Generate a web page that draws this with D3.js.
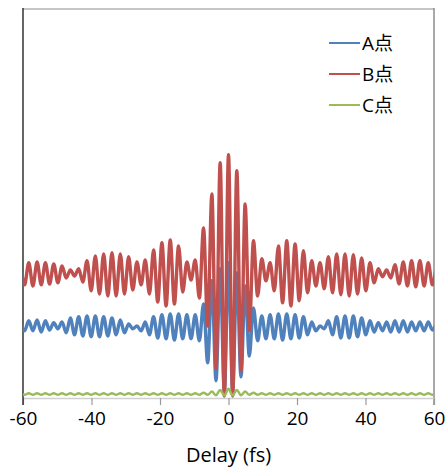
<!DOCTYPE html>
<html>
<head>
<meta charset="utf-8">
<script src="https://cdn.jsdelivr.net/npm/d3@7"></script>
<style>
  body { margin: 0; background: #fff; }
  text { font-family: "Open Sans", "Noto Sans CJK SC", sans-serif; fill: #000; }
</style>
</head>
<body>
<div class="chart"></div>
<script>
// extrema of the fringes, one value every half period
const halfPeriod = 1.215; // fs
const firstIndex = -50;

const seriesNames = ["A点", "B点", "C点"];
const seriesColors = ["#4f81bd", "#c0504d", "#9bbb59"];
const xTicks = [-60, -40, -20, 0, 20, 40, 60];

// A点, peaks and troughs from -60.75 fs to +60.75 fs
const valuesA = [
  19.3, 16.8, 19.3, 16.8, 19.5, 16.5, 19.3, 17.0, 18.8, 17.3,
  19.0, 16.3, 20.0, 15.8, 20.3, 15.5, 20.5, 15.3, 20.5, 15.3,
  20.3, 15.5, 20.0, 15.8, 19.5, 16.3, 18.5, 17.3, 18.0, 16.8,
  19.0, 15.8, 20.3, 15.0, 20.8, 14.8, 21.0, 14.5, 21.0, 14.8,
  20.8, 14.8, 20.8, 14.3, 23.5, 8.8, 29.3, 4.3, 32.3, 1.8,
  33.8,
  1.8, 31.3, 5.3, 28.0, 10.5, 22.5, 14.3, 20.5, 14.8, 20.8,
  14.8, 21.0, 14.5, 21.0, 14.8, 20.8, 15.0, 20.3, 15.8, 19.0,
  16.8, 18.0, 17.3, 19.3, 15.8, 20.3, 15.0, 20.5, 15.0, 20.5,
  15.3, 20.0, 15.8, 19.3, 16.5, 18.8, 16.8, 19.0, 16.5, 19.3,
  16.5, 19.3, 16.5, 19.0, 16.8, 19.0, 16.8, 19.0, 17.0, 19.0
];

// B点
const valuesB = [
  33.8, 28.3, 33.8, 28.0, 34.0, 28.3, 33.8, 28.5, 33.5, 28.8,
  33.0, 30.0, 32.0, 30.5, 32.3, 29.0, 34.3, 26.8, 35.5, 26.0,
  36.0, 25.5, 36.3, 25.5, 36.0, 26.0, 35.3, 27.0, 34.0, 28.3,
  34.5, 26.0, 37.0, 24.0, 38.8, 23.0, 39.5, 23.5, 38.0, 26.5,
  34.0, 29.5, 34.5, 25.0, 42.5, 18.0, 51.0, 7.3, 58.8, 0.5,
  60.8,
  0.5, 56.8, 6.8, 48.5, 16.8, 39.3, 25.5, 34.8, 29.3, 33.8,
  26.8, 38.0, 23.8, 39.3, 23.0, 38.5, 24.3, 36.8, 26.3, 34.3,
  28.0, 33.8, 27.3, 35.3, 26.3, 36.0, 25.8, 36.0, 25.5, 35.8,
  26.0, 35.0, 26.8, 33.8, 28.8, 32.3, 30.3, 32.0, 30.0, 33.3,
  28.5, 34.0, 28.0, 34.3, 27.8, 34.3, 28.0, 33.8, 28.3, 33.8
];

// C点
const valuesC = [
  1.2, 0.8, 1.2, 0.8, 1.2, 0.8, 1.2, 0.8, 1.2, 0.8,
  1.2, 0.8, 1.2, 0.8, 1.2, 0.8, 1.2, 0.8, 1.2, 0.8,
  1.2, 0.8, 1.2, 0.8, 1.2, 0.8, 1.2, 0.8, 1.2, 0.8,
  1.2, 0.8, 1.2, 0.8, 1.2, 0.8, 1.2, 0.8, 1.2, 0.8,
  1.2, 0.8, 1.2, 0.8, 1.3, 0.8, 1.6, 0.7, 2.0, 0.6,
  2.3,
  0.6, 2.0, 0.7, 1.6, 0.8, 1.3, 0.8, 1.2, 0.8, 1.2,
  0.8, 1.2, 0.8, 1.2, 0.8, 1.2, 0.8, 1.2, 0.8, 1.2,
  0.8, 1.2, 0.8, 1.2, 0.8, 1.2, 0.8, 1.2, 0.8, 1.2,
  0.8, 1.2, 0.8, 1.2, 0.8, 1.2, 0.8, 1.2, 0.8, 1.2,
  0.8, 1.2, 0.8, 1.2, 0.8, 1.2, 0.8, 1.2, 0.8, 1.2
];

const width = 447;
const height = 470;
const margin = {top: 8, right: 13, bottom: 72, left: 23};

const svg = d3.select('.chart').append('svg')
    .attr('width', width)
    .attr('height', height);

const x = d3.scaleLinear()
    .domain([-60, 60])
    .range([margin.left, width - margin.right]);

const y = d3.scaleLinear()
    .domain([0, 97.5])
    .range([height - margin.bottom, margin.top]);

svg.append('clipPath').attr('id', 'plot')
  .append('rect')
    .attr('x', margin.left)
    .attr('y', margin.top)
    .attr('width', width - margin.left - margin.right)
    .attr('height', height - margin.top - margin.bottom);

// frame
svg.append('line')
    .attr('x1', margin.left).attr('x2', width - margin.right)
    .attr('y1', margin.top + 1).attr('y2', margin.top + 1)
    .style('stroke', '#c6c6c6').style('stroke-width', 2);
svg.append('line')
    .attr('x1', width - margin.right).attr('x2', width - margin.right)
    .attr('y1', margin.top).attr('y2', height - margin.bottom + 7)
    .style('stroke', '#8c8c8c').style('stroke-width', 1.5);

const xAxis = svg.append('g')
    .attr('transform', `translate(0,${height - margin.bottom})`)
    .call(d3.axisBottom(x)
        .tickValues(xTicks)
        .tickFormat(d => String(d))
        .tickSize(7).tickPadding(7).tickSizeOuter(0));

xAxis.select('.domain').style('stroke', '#d0d0d0').style('stroke-width', 1.5);
xAxis.selectAll('.tick line').style('stroke', '#9a9a9a').style('stroke-width', 1.2);
xAxis.selectAll('.tick text')
    .style('font-size', '19px')
    .style('fill', '#000');

svg.append('line')
    .attr('x1', margin.left).attr('x2', margin.left)
    .attr('y1', margin.top).attr('y2', height - margin.bottom + 7)
    .style('stroke', '#333').style('stroke-width', 1.5);

svg.append('text')
    .attr('x', x(0))
    .attr('y', 462)
    .attr('text-anchor', 'middle')
    .style('font-size', '20px')
    .text('Delay (fs)');

const series = [valuesA, valuesB, valuesC].map((vals, i) => ({
    name: seriesNames[i],
    color: seriesColors[i],
    width: i === 2 ? 2.5 : 3.4,
    points: vals.map((v, j) => ({t: (firstIndex + j) * halfPeriod, v: v}))
}));

const line = d3.line()
    .x(d => x(d.t))
    .y(d => y(d.v))
    .curve(d3.curveMonotoneX);

svg.append('g')
    .attr('clip-path', 'url(#plot)')
  .selectAll('path')
  .data(series)
  .enter()
  .append('path')
    .attr('d', d => line(d.points))
    .style('fill', 'none')
    .style('stroke', d => d.color)
    .style('stroke-width', d => d.width)
    .style('stroke-linejoin', 'round');

// legend
const legend = svg.append('g')
    .selectAll('g')
    .data(series)
    .enter()
    .append('g')
    .attr('transform', (d, i) => `translate(329,${43 + i * 31})`);

legend.append('line')
    .attr('x1', 0).attr('x2', 31)
    .style('stroke', d => d.color)
    .style('stroke-width', 2);

legend.append('text')
    .attr('x', 33)
    .attr('dy', '0.35em')
    .style('font-size', '19px')
    .text(d => d.name);
</script>
</body>
</html>
